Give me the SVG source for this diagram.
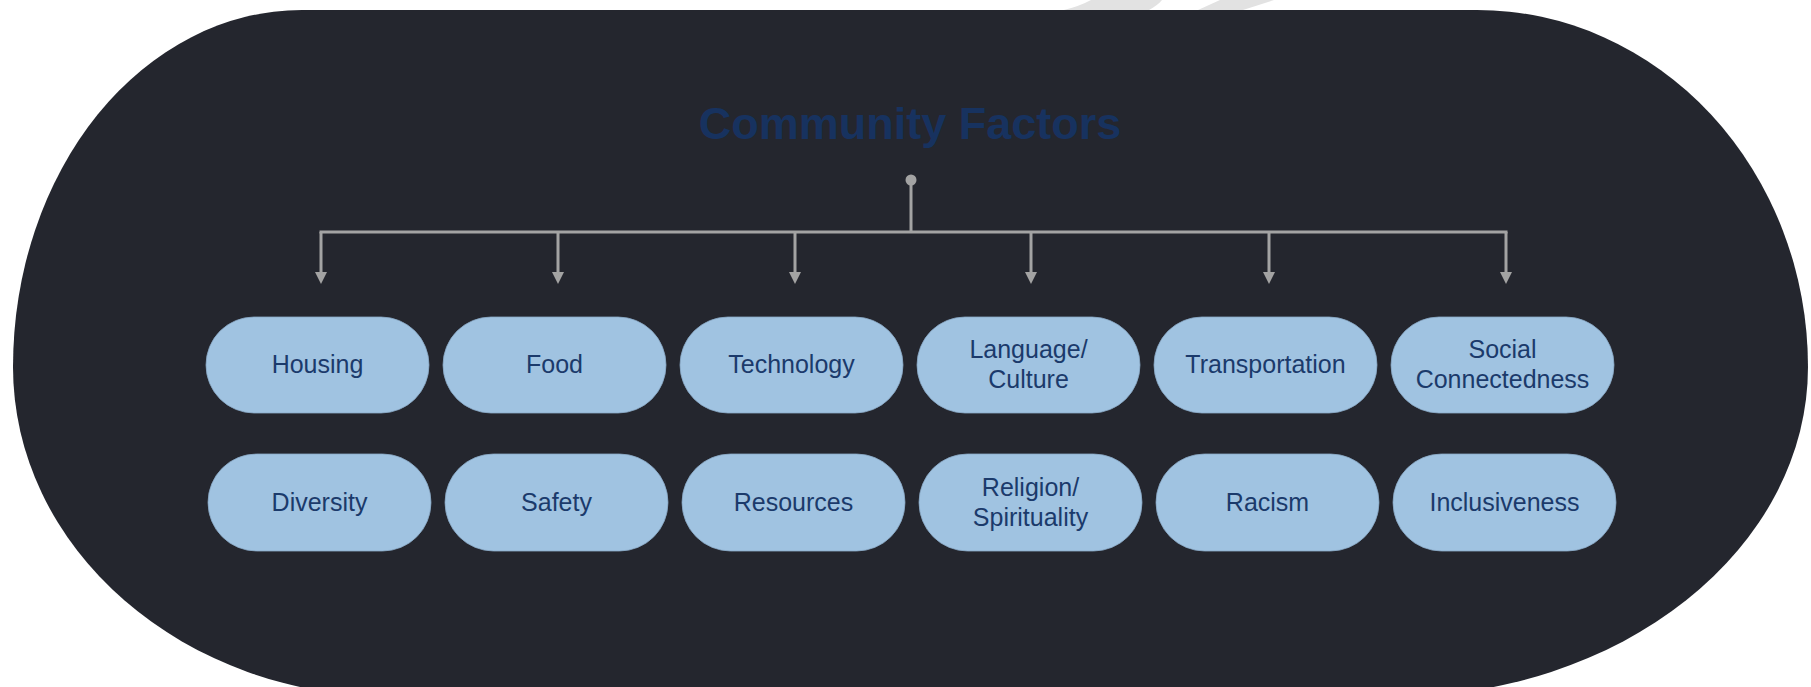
<svg xmlns="http://www.w3.org/2000/svg" width="1811" height="687" viewBox="0 0 1811 687">
<style>
.pill{fill:#a0c3e1;stroke:#8aa9c6;stroke-width:0.8}
.lbl{font-family:"Liberation Sans",Arial,sans-serif;font-size:25px;fill:#1b3a6b;text-anchor:middle}
.title{font-family:"Liberation Sans",Arial,sans-serif;font-size:45px;font-weight:bold;fill:#17325f;text-anchor:middle}
.conn{stroke:#a3a3a3;stroke-width:3;fill:none}
</style>
<defs>
<marker id="arr" markerUnits="userSpaceOnUse" markerWidth="12" markerHeight="12" refX="0" refY="6" orient="auto">
<path d="M0,0 L12,6 L0,12 Z" fill="#a3a3a3"/>
</marker>
</defs>
<rect width="1811" height="687" fill="#ffffff"/>
<g id="watermark" fill="#e2e2e2">
<path d="M1064,10 L1149,10 Q1158,5 1162,0 L1091,0 Q1080,6 1064,10 Z"/>
<path d="M1198,10 L1243,10 L1274,0 L1220,0 Z"/>
</g>
<path id="background" d="M302,10 L1477,10 A331 357 0 0 1 1808,367 A416 330 0 0 1 1392,697 L393,697 A380 330 0 0 1 13,367 A289 357 0 0 1 302,10 Z" fill="#24262e"/>
<g id="title"><text class="title" x="910" y="139">Community Factors</text></g>
<g id="connectors">
<circle cx="911" cy="180" r="5.5" fill="#a3a3a3"/>
<line class="conn" x1="911" y1="180" x2="911" y2="232"/>
<line class="conn" x1="319.5" y1="232" x2="1507.5" y2="232"/>
<line class="conn" x1="321" y1="232" x2="321" y2="272" marker-end="url(#arr)"/>
<line class="conn" x1="558" y1="232" x2="558" y2="272" marker-end="url(#arr)"/>
<line class="conn" x1="795" y1="232" x2="795" y2="272" marker-end="url(#arr)"/>
<line class="conn" x1="1031" y1="232" x2="1031" y2="272" marker-end="url(#arr)"/>
<line class="conn" x1="1269" y1="232" x2="1269" y2="272" marker-end="url(#arr)"/>
<line class="conn" x1="1506" y1="232" x2="1506" y2="272" marker-end="url(#arr)"/>
</g>
<g id="housing"><rect class="pill" x="206" y="317" width="223" height="96" rx="48"/><text class="lbl" x="317.5" y="373">Housing</text></g>
<g id="food"><rect class="pill" x="443" y="317" width="223" height="96" rx="48"/><text class="lbl" x="554.5" y="373">Food</text></g>
<g id="technology"><rect class="pill" x="680" y="317" width="223" height="96" rx="48"/><text class="lbl" x="791.5" y="373">Technology</text></g>
<g id="language-culture"><rect class="pill" x="917" y="317" width="223" height="96" rx="48"/><text class="lbl" x="1028.5" y="358">Language/</text><text class="lbl" x="1028.5" y="388">Culture</text></g>
<g id="transportation"><rect class="pill" x="1154" y="317" width="223" height="96" rx="48"/><text class="lbl" x="1265.5" y="373">Transportation</text></g>
<g id="social-connectedness"><rect class="pill" x="1391" y="317" width="223" height="96" rx="48"/><text class="lbl" x="1502.5" y="358">Social</text><text class="lbl" x="1502.5" y="388">Connectedness</text></g>
<g id="diversity"><rect class="pill" x="208" y="454" width="223" height="97" rx="48.5"/><text class="lbl" x="319.5" y="511">Diversity</text></g>
<g id="safety"><rect class="pill" x="445" y="454" width="223" height="97" rx="48.5"/><text class="lbl" x="556.5" y="511">Safety</text></g>
<g id="resources"><rect class="pill" x="682" y="454" width="223" height="97" rx="48.5"/><text class="lbl" x="793.5" y="511">Resources</text></g>
<g id="religion-spirituality"><rect class="pill" x="919" y="454" width="223" height="97" rx="48.5"/><text class="lbl" x="1030.5" y="495.5">Religion/</text><text class="lbl" x="1030.5" y="525.5">Spirituality</text></g>
<g id="racism"><rect class="pill" x="1156" y="454" width="223" height="97" rx="48.5"/><text class="lbl" x="1267.5" y="511">Racism</text></g>
<g id="inclusiveness"><rect class="pill" x="1393" y="454" width="223" height="97" rx="48.5"/><text class="lbl" x="1504.5" y="511">Inclusiveness</text></g>
</svg>
